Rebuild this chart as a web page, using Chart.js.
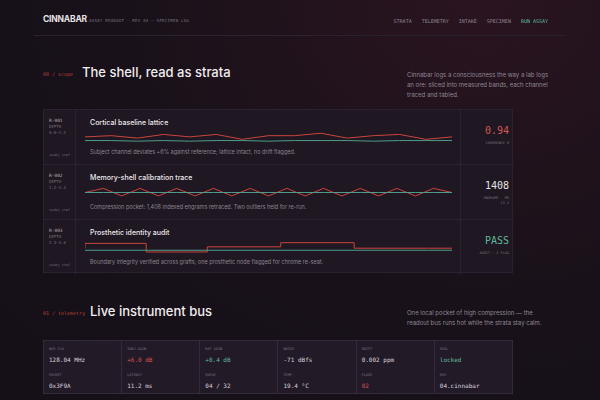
<!DOCTYPE html>
<html lang="en">
<head>
<meta charset="UTF-8">
<title>Cinnabar</title>
<script src="https://cdn.jsdelivr.net/npm/chart.js"></script>
<style>
  * { box-sizing: border-box; margin: 0; padding: 0; }
  body {
    width: 600px; height: 400px; overflow: hidden;
    background: radial-gradient(ellipse at 80% 0%, #2a1420 0%, #181119 55%, #150f17 100%);
    font-family: 'Inter', sans-serif; color: #e8e2e6; position: relative;
  }
  .mono { font-family: 'DejaVu Sans Mono', monospace; }
  .abs { position: absolute; }
  .head { top: 14px; left: 43px; font-weight: 700; font-size: 8.5px; letter-spacing: -0.2px; }
  .sub { font-size: 4px; color: #7c7480; top: 18px; left: 89px; letter-spacing: 0.3px; }
  nav { position: absolute; top: 18px; right: 52px; font-size: 5px; color: #8d8590; }
  nav span { margin-left: 10px; }
  nav .go { color: #5fb89a; }
  .rule { top: 35px; left: 34px; width: 530px; height: 1px; background: #2a2230; }
  .tag { font-size: 5px; color: #b5413a; }
  h2 { font-weight: 500; font-size: 13px; color: #f1ecef; position: absolute; }
  .lede { font-size: 6px; color: #8f8794; line-height: 10px; width: 142px; }
  .panel { left: 43px; top: 109px; width: 470px; height: 164px; background: #1f1721; border: 1px solid #2a2230; }
  .row { position: absolute; left: 0; width: 470px; height: 55px; border-bottom: 1px solid #2a2230; }
  .idc { position: absolute; left: 0; top: 0; width: 32px; height: 55px; border-right: 1px solid #2a2230; font-size: 4px; color: #75707a; padding: 8px 0 0 5px; line-height: 6px; }
  .idc b { color: #b9b2bb; font-weight: 400; font-size: 4.5px; }
  .idc .lg { position: absolute; bottom: 7px; left: 5px; font-size: 3.5px; }
  .title { position: absolute; left: 46px; top: 8px; font-size: 7px; font-weight: 500; color: #eee8ec; }
  .cv { position: absolute; left: 41px; top: 22px; width: 367px; height: 11px; }
  .desc { position: absolute; left: 46px; top: 39px; font-size: 5.5px; color: #8c8490; }
  .valc { position: absolute; right: 0; top: 0; width: 54px; height: 55px; border-left: 1px solid #2a2230; text-align: right; padding: 15px 5px 0 0; }
  .big { font-size: 10px; }
  .small { font-size: 3.5px; color: #7c7480; margin-top: 5px; line-height: 5px; }
  table { position: absolute; left: 43px; top: 340px; width: 470px; border-collapse: collapse; background: #231a28; border: 1px solid #342a3a; }
  td { border-right: 1px solid #342a3a; padding: 6px 5px 4px 5px; width: 78px; vertical-align: top; }
  td .k { font-size: 3.5px; color: #7b7380; }
  td .v { font-size: 6px; color: #d9d2db; margin-top: 5px; }
  .red { color: #d3574c !important; } .grn { color: #5fb89a !important; }
</style>
</head>
<body>
<div class="abs head">CINNABAR</div>
<div class="abs sub mono">ASSAY READOUT · REV 04 — SPECIMEN LOG</div>
<nav class="mono"><span>STRATA</span><span>TELEMETRY</span><span>INTAKE</span><span>SPECIMEN</span><span class="go">RUN ASSAY</span></nav>
<div class="abs rule"></div>

<div class="abs tag mono" style="top:71px;left:43px">00 / scope</div>
<h2 style="top:64px;left:82px">The shell, read as strata</h2>
<div class="abs lede" style="top:70px;left:407px">Cinnabar logs a consciousness the way a lab logs an ore: sliced into measured bands, each channel traced and tabled.</div>

<div class="abs panel">
  <div class="row" style="top:0">
    <div class="idc mono"><b>R-001</b><br>DEPTH<br>0.0–1.2<div class="lg">▯subj ▯ref</div></div>
    <div class="title">Cortical baseline lattice</div>
    <div class="cv"><canvas id="c1"></canvas></div>
    <div class="desc">Subject channel deviates +6% against reference; lattice intact, no drift flagged.</div>
    <div class="valc mono"><div class="big red">0.94</div><div class="small">COHERENCE K</div></div>
  </div>
  <div class="row" style="top:55px">
    <div class="idc mono"><b>R-002</b><br>DEPTH<br>1.2–2.4<div class="lg">▯subj ▯ref</div></div>
    <div class="title">Memory-shell calibration trace</div>
    <div class="cv"><canvas id="c2"></canvas></div>
    <div class="desc">Compression pocket: 1,408 indexed engrams retraced. Two outliers held for re-run.</div>
    <div class="valc mono"><div class="big">1408</div><div class="small">ENGRAMS · MS<br>11.2</div></div>
  </div>
  <div class="row" style="top:110px;border-bottom:none">
    <div class="idc mono"><b>R-003</b><br>DEPTH<br>2.4–3.6<div class="lg">▯subj ▯ref</div></div>
    <div class="title">Prosthetic identity audit</div>
    <div class="cv"><canvas id="c3"></canvas></div>
    <div class="desc">Boundary integrity verified across grafts; one prosthetic node flagged for chrome re-seat.</div>
    <div class="valc mono"><div class="big grn">PASS</div><div class="small">AUDIT · 1 FLAG</div></div>
  </div>
</div>

<div class="abs tag mono" style="top:310px;left:43px">01 / telemetry</div>
<h2 style="top:303px;left:90px">Live instrument bus</h2>
<div class="abs lede" style="top:308px;left:407px;width:140px">One local pocket of high compression — the readout bus runs hot while the strata stay calm.</div>

<table class="mono">
  <tr>
    <td><div class="k">BUS CLK</div><div class="v">128.04 MHz</div></td>
    <td><div class="k">SUBJ GAIN</div><div class="v red">+6.0 dB</div></td>
    <td><div class="k">REF GAIN</div><div class="v grn">+0.4 dB</div></td>
    <td><div class="k">NOISE</div><div class="v">-71 dBfs</div></td>
    <td><div class="k">DRIFT</div><div class="v">0.002 ppm</div></td>
    <td><div class="k">SEAL</div><div class="v grn">locked</div></td>
  </tr>
  <tr>
    <td><div class="k">PACKET</div><div class="v">0x3F9A</div></td>
    <td><div class="k">LATENCY</div><div class="v">11.2 ms</div></td>
    <td><div class="k">QUEUE</div><div class="v">04 / 32</div></td>
    <td><div class="k">TEMP</div><div class="v">19.4 °C</div></td>
    <td><div class="k">FLAGS</div><div class="v red">02</div></td>
    <td><div class="k">REV</div><div class="v">04.cinnabar</div></td>
  </tr>
</table>

<script>
// trace data
const latticeSubj = [5, 6, 4, 7, 5, 7, 3, 6, 6, 8, 4, 6, 7, 3, 5];
const latticeRef  = [2, 2, 1.5, 2, 1.5, 2, 2, 1.5, 2, 2, 2, 1.5, 2, 2, 2];
const shellSubj = [0, 3, -2.5, 3, -2.5, 3, -2.5, 3, -2.5, 3, -2.5, 3, -2.5, 3, -2.5, 3, -2.5, 3, -2.5, 3, 0];
const shellRef  = [0, 0, 0, 0, 0, 0, 0, 0, 0, 0, 0, 0, 0, 0, 0, 0, 0, 0, 0, 0, 0];
const auditX    = [0, 5, 10, 16, 22, 28, 30];
const auditSubj = [6, 20, -5, 10, 22, 6, 6];
const auditRef  = [0, 0, 0, 0, 0, 0, 0];

const RED = '#c8463d', TEAL = '#4f9c8c';

function spark(id, xs, subj, ref, yMin, yMax, stepped) {
  const pts = (arr) => arr.map((v, i) => ({ x: xs[i], y: v }));
  new Chart(document.getElementById(id), {
    type: 'line',
    data: {
      datasets: [
        { data: pts(ref), borderColor: TEAL, borderWidth: 1, pointRadius: 0, tension: 0 },
        { data: pts(subj), borderColor: RED, borderWidth: 1, pointRadius: 0, tension: 0, stepped: stepped ? 'after' : false }
      ]
    },
    options: {
      responsive: true, maintainAspectRatio: false, animation: false,
      plugins: { legend: { display: false }, tooltip: { enabled: false } },
      layout: { padding: 0 },
      scales: {
        x: { type: 'linear', display: false, min: xs[0], max: xs[xs.length - 1] },
        y: { display: false, min: yMin, max: yMax }
      }
    }
  });
}

spark('c1', latticeSubj.map((_, i) => i), latticeSubj, latticeRef, 0, 9, false);
spark('c2', shellSubj.map((_, i) => i), shellSubj, shellRef, -4, 4, false);
spark('c3', auditX, auditSubj, auditRef, -8, 24, true);
</script>
</body>
</html>
